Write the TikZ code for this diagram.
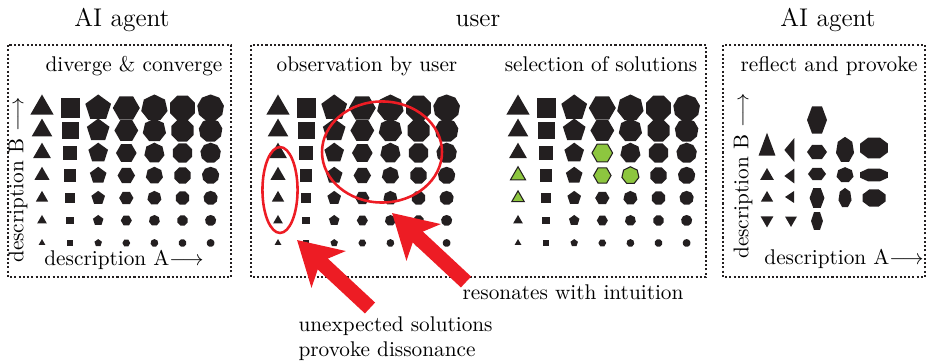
\documentclass[tikz,border=0pt]{standalone}
\usepackage{amsmath}
\usepackage{tikz}
\usetikzlibrary{shapes.geometric, arrows.meta}
\definecolor{ink}{RGB}{35,31,32}
\definecolor{leaf}{RGB}{141,198,63}
\definecolor{alarm}{RGB}{237,28,36}
\tikzstyle{panel} = [draw=ink, line width=1pt, dash pattern=on 1pt off 1pt]
\tikzstyle{blob} = [regular polygon, inner sep=0pt, outer sep=0pt, fill=ink]
\tikzstyle{chosen} = [blob, fill=leaf, draw=ink, line width=0.5pt]
\tikzstyle{ring} = [ellipse, draw=alarm, line width=1.2pt, inner sep=0pt]
\tikzstyle{bigarrow} = [alarm, line width=7pt, -{Stealth[length=20pt, width=23pt, inset=5pt]}]

\begin{document}
\begin{tikzpicture}[x=0.47pt, y=-0.47pt]
  \useasboundingbox (0,0) rectangle (932,362);
  % frames
  \draw[panel] (8,45) rectangle (231,277);
  \draw[panel] (251,45) rectangle (706,277);
  \draw[panel] (723,45) rectangle (925,277);
  % titles
  \node[anchor=base] (A) at (122,27) {\large AI agent};
  \node[anchor=base] (U) at (478,27) {\large user};
  \node[anchor=base] (B) at (828,27) {\large AI agent};
  \node[anchor=base] (dc) at (134,72) {diverge \& converge};
  \node[anchor=base] (ob) at (367,72) {observation by user};
  \node[anchor=base] (sel) at (601,72) {selection of solutions};
  \node[anchor=base] (rp) at (829,72) {reflect and provoke};
  % axes
  \node[anchor=base] (xa) at (124,266) {description A$\longrightarrow$};
  \node[anchor=base] (xb) at (844,265) {description A$\longrightarrow$};
  \node[rotate=90] (ya) at (18,180) {description B $\longrightarrow$};
  \node[rotate=90] (yb) at (743,176) {description B $\longrightarrow$};
  % grids of solutions
  \foreach \g/\x/\k in {a/42/0, o/278/0, s/518/1} {
    \foreach \r in {0,...,6} {
      \foreach \c in {0,...,6} {
        \pgfmathtruncatemacro\n{\c+3}
        \pgfmathtruncatemacro\hit{\k*((\r==2)*(\c==3)+(\r==3)*((\c==0)+(\c==3)+(\c==4))+(\r==4)*(\c==0))}
        \ifnum\hit>0 \def\st{chosen}\else\def\st{blob}\fi
        \node[\st, regular polygon sides=\n, minimum size={12.7pt-1.5pt*\r}]
          (\g\r\c) at ({\x+28.1*\c},{108+22.5*\r}) {};
      }
    }
  }
  % reflected solutions
  \node[blob, regular polygon sides=3, minimum size=9.2pt, yscale=1.56] (b11) at (767,148) {};
  \node[blob, regular polygon sides=3, minimum size=7.5pt] (b21) at (767,176) {};
  \node[blob, regular polygon sides=3, minimum size=6.6pt] (b31) at (767,198) {};
  \node[blob, regular polygon sides=3, minimum size=7pt, rotate=180] (b41) at (767,220) {};
  \node[blob, regular polygon sides=3, minimum size=13pt, rotate=90, yscale=0.48] (b12) at (791,150) {};
  \node[blob, regular polygon sides=3, minimum size=8.1pt, rotate=90, yscale=0.77] (b22) at (791,176) {};
  \node[blob, regular polygon sides=3, minimum size=6.5pt, rotate=90, yscale=0.87] (b32) at (791,197) {};
  \node[blob, regular polygon sides=3, minimum size=6.5pt, rotate=180] (b42) at (791,220) {};
  \node[blob, regular polygon sides=6, minimum size=9.4pt, yscale=1.56] (b03) at (817,120) {};
  \node[blob, regular polygon sides=6, minimum size=9.4pt, yscale=0.81] (b13) at (817,152) {};
  \node[blob, regular polygon sides=6, minimum size=8.5pt, yscale=0.77] (b23) at (817,174) {};
  \node[blob, regular polygon sides=6, minimum size=7pt, yscale=1.54] (b33) at (817,198) {};
  \node[blob, regular polygon sides=6, minimum size=5.6pt, yscale=1.73] (b43) at (817,221) {};
  \node[blob, regular polygon sides=7, minimum size=8.7pt, yscale=1.42] (b14) at (845,150) {};
  \node[blob, regular polygon sides=7, minimum size=8.2pt, yscale=0.9] (b24) at (845,175) {};
  \node[blob, regular polygon sides=7, minimum size=6.3pt, yscale=1.5] (b34) at (845,198) {};
  \node[blob, regular polygon sides=8, minimum size=14.2pt, yscale=0.75] (b15) at (874,148) {};
  \node[blob, regular polygon sides=8, minimum size=14.2pt, yscale=0.46] (b25) at (874,175) {};
  \node[blob, regular polygon sides=8, minimum size=11.7pt, yscale=0.74] (b35) at (874,198) {};
  % user reactions
  \node[ring, minimum width=16.5pt, minimum height=40.4pt] (odd) at (280,190) {};
  \node[ring, minimum width=56.4pt, minimum height=47.5pt] (fit) at (382,152) {};
  \node[anchor=base] (res) at (573,300) {resonates with intuition};
  \node[anchor=north west, align=left] (diss) at (291,309) {unexpected solutions\\provoke dissonance};
  \coordinate (ut) at (370,308);
  \coordinate (uh) at (297,240);
  \coordinate (rt) at (466,282);
  \coordinate (rh) at (392,213);
  \draw[bigarrow] (ut) -- (uh);
  \draw[bigarrow] (rt) -- (rh);
\end{tikzpicture}
\end{document}
